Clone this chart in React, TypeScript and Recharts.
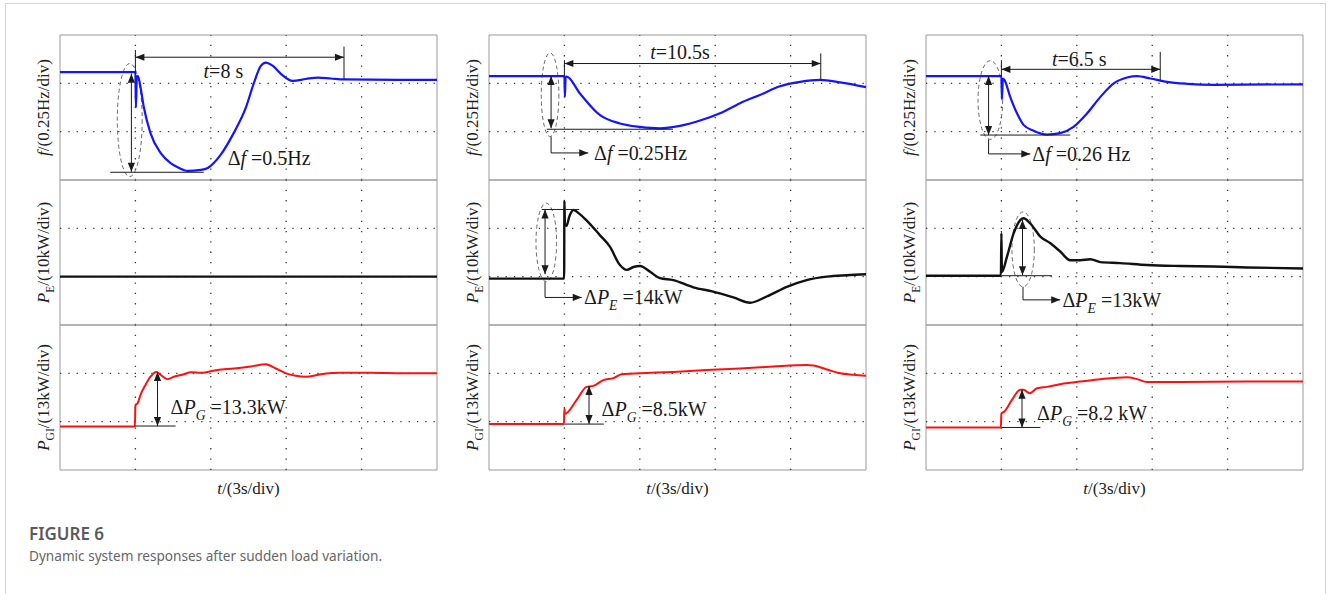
import React from "react";
import {
  LineChart,
  Line,
  XAxis,
  YAxis,
  ReferenceLine,
  ReferenceArea,
  ReferenceDot,
} from "recharts";

type Row = [number, number];
type Seg = [number, number, number, number];
type Part = [string, string?];

// time in s (3 s/div), values in scope divisions (0..3)
const timeTicks = [0, 3, 6, 9, 12, 15];
const divTicks = [0, 1, 2, 3];
const timeGrid = [3, 6, 9, 12];
const divGrid = [1, 2];

const freqA: Row[] = [[0, 2.23], [2.98, 2.23], [3.0, 2.23], [3.02, 1.5], [3.06, 2.15], [3.1, 2.15], [3.2, 1.93], [3.33, 1.52], [3.6, 0.97], [4.0, 0.56], [4.4, 0.35], [4.7, 0.26], [5.08, 0.19], [5.6, 0.21], [5.88, 0.25], [6.39, 0.52], [6.91, 0.97], [7.39, 1.49], [7.71, 2.0], [7.99, 2.36], [8.19, 2.43], [8.47, 2.36], [8.78, 2.2], [9.26, 2.05], [9.78, 2.09], [10.26, 2.12], [10.78, 2.1], [11.3, 2.08], [15, 2.07]];
const freqB: Row[] = [[0, 2.15], [2.98, 2.15], [3.0, 2.15], [3.02, 1.72], [3.05, 2.14], [3.09, 2.14], [3.62, 1.79], [4.42, 1.34], [5.21, 1.17], [6.0, 1.1], [6.8, 1.07], [7.6, 1.12], [8.4, 1.23], [9.19, 1.38], [9.99, 1.59], [10.78, 1.76], [11.58, 1.94], [12.38, 2.03], [13.17, 2.07], [13.97, 2.02], [15, 1.92]];
const freqC: Row[] = [[0, 2.15], [2.98, 2.15], [3.0, 2.15], [3.02, 1.67], [3.06, 2.1], [3.12, 2.07], [3.35, 1.72], [3.62, 1.38], [3.88, 1.14], [4.28, 1.02], [4.81, 0.94], [5.34, 0.97], [5.87, 1.1], [6.41, 1.38], [6.94, 1.72], [7.47, 2.0], [8.0, 2.12], [8.4, 2.15], [8.93, 2.1], [9.59, 2.03], [10.39, 1.99], [11.45, 1.97], [15, 1.98]];

const essA: Row[] = [[0, 1.0], [3, 1.0], [15, 1.0]];
const essB: Row[] = [[0, 0.96], [2.99, 0.96], [3.0, 2.57], [3.02, 2.1], [3.08, 2.05], [3.2, 2.25], [3.36, 2.38], [3.6, 2.3], [3.87, 2.17], [4.41, 1.86], [4.81, 1.62], [5.21, 1.24], [5.48, 1.14], [5.75, 1.2], [6.01, 1.22], [6.41, 1.1], [6.8, 0.97], [7.33, 0.93], [8.13, 0.78], [8.92, 0.69], [9.72, 0.57], [10.39, 0.46], [11.05, 0.59], [11.85, 0.79], [12.64, 0.93], [13.44, 1.0], [14.24, 1.03], [15, 1.05]];
const essC: Row[] = [[0, 1.02], [2.98, 1.02], [3.0, 1.9], [3.02, 1.1], [3.22, 1.41], [3.49, 1.9], [3.75, 2.17], [3.88, 2.21], [4.15, 2.1], [4.55, 1.83], [4.95, 1.69], [5.34, 1.52], [5.74, 1.34], [6.14, 1.34], [6.54, 1.36], [6.94, 1.3], [7.73, 1.28], [8.79, 1.24], [10.12, 1.22], [11.45, 1.21], [12.77, 1.19], [15, 1.17]];

const genA: Row[] = [[0, 0.9], [2.98, 0.9], [3.0, 1.34], [3.09, 1.38], [3.2, 1.55], [3.4, 1.76], [3.6, 1.93], [3.83, 2.03], [4.0, 1.97], [4.27, 1.88], [4.53, 1.93], [4.93, 1.98], [5.2, 2.02], [5.6, 2.01], [6.26, 2.07], [6.93, 2.1], [7.59, 2.14], [8.19, 2.19], [8.59, 2.1], [8.99, 2.0], [9.38, 1.95], [9.78, 1.93], [10.38, 1.98], [11.18, 2.01], [12.37, 2.01], [13.57, 2.0], [15, 2.0]];
const genB: Row[] = [[0, 0.95], [2.98, 0.95], [3.0, 1.28], [3.02, 1.16], [3.49, 1.45], [3.88, 1.72], [4.15, 1.74], [4.55, 1.86], [4.95, 1.9], [5.28, 1.98], [6.01, 2.0], [7.33, 2.03], [8.66, 2.07], [9.99, 2.1], [11.31, 2.14], [12.64, 2.17], [12.9, 2.16], [13.44, 2.08], [13.97, 2.0], [14.5, 1.97], [15, 1.95]];
const genC: Row[] = [[0, 0.88], [2.98, 0.88], [3.0, 1.17], [3.12, 1.21], [3.42, 1.45], [3.75, 1.66], [3.88, 1.66], [4.12, 1.59], [4.42, 1.69], [4.81, 1.72], [5.48, 1.79], [6.14, 1.83], [6.94, 1.88], [8.0, 1.92], [8.4, 1.88], [8.79, 1.82], [10.12, 1.82], [12.77, 1.83], [15, 1.83]];

// axis titles
const fLabel: Part[] = [["f", "i"], ["/(0.25Hz/div)"]];
const peLabel: Part[] = [["P", "i"], ["E", "n"], ["/(10kW/div)"]];
const pgLabel: Part[] = [["P", "i"], ["GI", "n"], ["/(13kW/div)"]];
const tLabel: Part[] = [["t", "i"], ["/(3s/div)"]];

interface Note { t: number; v: number; parts: Part[]; mid?: boolean }
interface Spec {
  rows: Row[];
  color: string;
  sw: number;
  label: Part[];
  both?: Seg[];   // double-headed arrows
  single?: Seg[]; // arrows with one head
  lines?: Seg[];
  rings?: Seg[];  // t1, t2, v1, v2
  notes?: Note[];
}

const specs: Spec[][] = [
  [
    {
      rows: freqA, color: "#1414ff", sw: 2.2, label: fLabel,
      both: [[3, 2.54, 11.3, 2.54], [2.84, 2.2, 2.84, 0.17]],
      lines: [[3, 2.69, 3, 2.2], [11.3, 2.76, 11.3, 2.08], [2.0, 0.16, 5.72, 0.16]],
      rings: [[2.28, 3.27, 0.07, 2.41]],
      notes: [
        { t: 6.5, v: 2.26, parts: [["t", "i"], ["=8 s"]], mid: true },
        { t: 6.67, v: 0.46, parts: [["Δ"], ["f", "i"], [" =0.5Hz"]] },
      ],
    },
    { rows: essA, color: "#111", sw: 2.4, label: peLabel },
    {
      rows: genA, color: "#ff1010", sw: 2, label: pgLabel,
      both: [[3.88, 2.03, 3.88, 0.91]],
      lines: [[2.97, 0.91, 4.6, 0.91]],
      notes: [{ t: 4.4, v: 1.31, parts: [["Δ"], ["P", "i"], ["G", "s"], [" =13.3kW"]] }],
    },
  ],
  [
    {
      rows: freqB, color: "#1414ff", sw: 2.2, label: fLabel,
      both: [[3, 2.41, 13.2, 2.41], [2.47, 2.15, 2.47, 1.07]],
      single: [[2.47, 0.56, 3.95, 0.56]],
      lines: [[3, 2.48, 3, 2.15], [13.2, 2.62, 13.2, 2.07], [2.3, 1.05, 7.32, 1.05], [2.47, 0.9, 2.47, 0.56]],
      rings: [[2.08, 2.78, 0.9, 2.63]],
      notes: [
        { t: 7.6, v: 2.64, parts: [["t", "i"], ["=10.5s"]], mid: true },
        { t: 4.18, v: 0.56, parts: [["Δ"], ["f", "i"], [" =0.25Hz"]] },
      ],
    },
    {
      rows: essB, color: "#111", sw: 2.4, label: peLabel,
      both: [[2.23, 2.39, 2.23, 1.05]],
      single: [[2.23, 0.57, 3.69, 0.57]],
      lines: [[2.1, 2.39, 3.59, 2.39], [2.23, 0.9, 2.23, 0.57]],
      rings: [[1.87, 2.69, 0.9, 2.52]],
      notes: [{ t: 3.78, v: 0.58, parts: [["Δ"], ["P", "i"], ["E", "s"], [" =14kW"]] }],
    },
    {
      rows: genB, color: "#ff1010", sw: 2, label: pgLabel,
      both: [[3.98, 1.74, 3.98, 0.95]],
      lines: [[3, 0.95, 4.57, 0.95]],
      notes: [{ t: 4.48, v: 1.26, parts: [["Δ"], ["P", "i"], ["G", "s"], [" =8.5kW"]] }],
    },
  ],
  [
    {
      rows: freqC, color: "#1414ff", sw: 2.2, label: fLabel,
      both: [[3, 2.29, 9.32, 2.29], [2.49, 2.15, 2.49, 0.93]],
      single: [[2.49, 0.54, 4.15, 0.54]],
      lines: [[3, 2.48, 3, 2.15], [9.32, 2.65, 9.32, 2.07], [2.16, 0.93, 5.74, 0.93], [2.49, 0.84, 2.49, 0.54]],
      rings: [[2.07, 3.05, 0.84, 2.47]],
      notes: [
        { t: 6.1, v: 2.5, parts: [["t", "i"], ["=6.5 s"]], mid: true },
        { t: 4.23, v: 0.54, parts: [["Δ"], ["f", "i"], [" =0.26 Hz"]] },
      ],
    },
    {
      rows: essC, color: "#111", sw: 2.4, label: peLabel,
      both: [[3.84, 2.17, 3.84, 1.03]],
      single: [[3.86, 0.52, 5.34, 0.52]],
      lines: [[3, 1.02, 5.01, 1.02], [3.86, 0.79, 3.86, 0.52]],
      rings: [[3.42, 4.31, 0.79, 2.34]],
      notes: [{ t: 5.43, v: 0.52, parts: [["Δ"], ["P", "i"], ["E", "s"], [" =13kW"]] }],
    },
    {
      rows: genC, color: "#ff1010", sw: 2, label: pgLabel,
      both: [[3.82, 1.66, 3.82, 0.88]],
      lines: [[3, 0.88, 4.55, 0.88]],
      notes: [{ t: 4.42, v: 1.17, parts: [["Δ"], ["P", "i"], ["G", "s"], [" =8.2 kW"]] }],
    },
  ],
];

const SERIF = "'Liberation Serif', 'Times New Roman', serif";
const INK = "#1a1a1a";
const colLeft = [60, 489, 926];
const rowTop = [35, 180, 325];
const PW = 377;
const PH = 145;
const YW = 45;

function rich(parts: Part[], size: number) {
  let sub = false;
  return parts.map(([s, f], i) => {
    const isSub = f === "s" || f === "n";
    const shift = size * 0.3;
    const dy = isSub && !sub ? shift : !isSub && sub ? -shift : 0;
    sub = isSub;
    return (
      <tspan
        key={i}
        dy={dy || undefined}
        fontStyle={f === "i" || f === "s" ? "italic" : "normal"}
        fontSize={isSub ? size * 0.68 : size}
      >
        {s}
      </tspan>
    );
  });
}

function arrowShape(heads: number) {
  return (p: any) => {
    const { x1, y1, x2, y2 } = p;
    const a = Math.atan2(y2 - y1, x2 - x1);
    const tri = (x: number, y: number, ang: number) => {
      const L = 9, W = 3.6;
      const bx = x - L * Math.cos(ang);
      const by = y - L * Math.sin(ang);
      return `${x},${y} ${bx - W * Math.sin(ang)},${by + W * Math.cos(ang)} ${bx + W * Math.sin(ang)},${by - W * Math.cos(ang)}`;
    };
    return (
      <g>
        <line x1={x1} y1={y1} x2={x2} y2={y2} stroke={INK} strokeWidth={1} />
        {heads >= 1 && <polygon points={tri(x2, y2, a)} fill={INK} />}
        {heads === 2 && <polygon points={tri(x1, y1, a + Math.PI)} fill={INK} />}
      </g>
    );
  };
}

const ringShape = (p: any) => (
  <ellipse
    cx={p.x + p.width / 2}
    cy={p.y + p.height / 2}
    rx={p.width / 2}
    ry={p.height / 2}
    fill="none"
    stroke="#666"
    strokeWidth={1}
    strokeDasharray="4 3"
  />
);

function noteShape(n: Note) {
  return (p: any) => (
    <text
      x={p.cx}
      y={p.cy}
      dy="0.35em"
      textAnchor={n.mid ? "middle" : "start"}
      fontFamily={SERIF}
      fontSize={20}
      fill={INK}
      style={{ whiteSpace: "pre" }}
    >
      {rich(n.parts, 20)}
    </text>
  );
}

function yTitle(parts: Part[]) {
  return (props: any) => {
    const vb = props.viewBox || {};
    const cx = vb.x + vb.width - 17;
    const cy = vb.y + vb.height / 2;
    return (
      <text
        x={cx}
        y={cy}
        dy="0.35em"
        transform={`rotate(-90 ${cx} ${cy})`}
        textAnchor="middle"
        fontFamily={SERIF}
        fontSize={17}
        fill="#222"
      >
        {rich(parts, 17)}
      </text>
    );
  };
}

function xTitle(props: any) {
  const vb = props.viewBox || {};
  const cx = vb.x + vb.width / 2;
  const cy = vb.y + 18;
  return (
    <text x={cx} y={cy} dy="0.35em" textAnchor="middle" fontFamily={SERIF} fontSize={17} fill="#222">
      {rich(tLabel, 17)}
    </text>
  );
}

function Panel({ spec, left, top, bottom }: { spec: Spec; left: number; top: number; bottom: boolean }) {
  const data = spec.rows.map(([t, v]) => ({ t, v }));
  const h = PH + 4 + (bottom ? 30 : 0);
  return (
    <div style={{ position: "absolute", left: left - YW, top: top - 2 }}>
      <LineChart width={YW + PW + 2} height={h} data={data} margin={{ top: 2, right: 2, bottom: 2, left: 0 }}>
        <XAxis
          dataKey="t"
          type="number"
          domain={[0, 15]}
          ticks={timeTicks}
          hide={!bottom}
          height={30}
          tick={false}
          tickLine={false}
          axisLine={false}
          label={bottom ? { content: xTitle } : undefined}
        />
        <YAxis
          type="number"
          domain={[0, 3]}
          ticks={divTicks}
          width={YW}
          tick={false}
          tickLine={false}
          axisLine={false}
          allowDataOverflow
          label={{ content: yTitle(spec.label) }}
        />
        {timeGrid.map((t) => (
          <ReferenceLine key={`gx${t}`} x={t} stroke="#3a3a3a" strokeWidth={1.3} strokeDasharray="1.3 9" />
        ))}
        {divGrid.map((v) => (
          <ReferenceLine key={`gy${v}`} y={v} stroke="#3a3a3a" strokeWidth={1.3} strokeDasharray="1.3 7" />
        ))}
        <ReferenceArea x1={0} x2={15} y1={0} y2={3} fill="none" stroke="#9a9a9a" strokeWidth={1} ifOverflow="visible" />
        <Line
          dataKey="v"
          type="monotone"
          stroke={spec.color}
          strokeWidth={spec.sw}
          dot={false}
          isAnimationActive={false}
        />
        {(spec.rings || []).map((r, i) => (
          <ReferenceArea key={`r${i}`} x1={r[0]} x2={r[1]} y1={r[2]} y2={r[3]} shape={ringShape} ifOverflow="visible" />
        ))}
        {(spec.lines || []).map((s, i) => (
          <ReferenceLine
            key={`l${i}`}
            segment={[{ x: s[0], y: s[1] }, { x: s[2], y: s[3] }]}
            stroke={INK}
            strokeWidth={1}
            ifOverflow="visible"
          />
        ))}
        {(spec.both || []).map((s, i) => (
          <ReferenceLine
            key={`b${i}`}
            segment={[{ x: s[0], y: s[1] }, { x: s[2], y: s[3] }]}
            shape={arrowShape(2)}
            ifOverflow="visible"
          />
        ))}
        {(spec.single || []).map((s, i) => (
          <ReferenceLine
            key={`s${i}`}
            segment={[{ x: s[0], y: s[1] }, { x: s[2], y: s[3] }]}
            shape={arrowShape(1)}
            ifOverflow="visible"
          />
        ))}
        {(spec.notes || []).map((n, i) => (
          <ReferenceDot key={`n${i}`} x={n.t} y={n.v} r={1} shape={noteShape(n)} ifOverflow="visible" />
        ))}
      </LineChart>
    </div>
  );
}

export default function App() {
  return (
    <div style={{ position: "absolute", left: 0, top: 0, width: 1330, height: 594, overflow: "hidden", background: "#fff" }}>
      <div
        style={{
          position: "absolute",
          left: 5,
          top: 3,
          width: 1321,
          height: 620,
          border: "1px solid #d4d4d4",
          boxSizing: "border-box",
        }}
      />
      {specs.map((col, ci) =>
        col.map((spec, ri) => (
          <Panel key={`${ci}-${ri}`} spec={spec} left={colLeft[ci]} top={rowTop[ri]} bottom={ri === 2} />
        ))
      )}
      <div
        style={{
          position: "absolute",
          left: 29,
          top: 523,
          fontFamily: "'Noto Sans', sans-serif",
          fontSize: 17,
          fontWeight: 600,
          color: "#5a5a5a",
          lineHeight: "22px",
        }}
      >
        FIGURE 6
      </div>
      <div
        style={{
          position: "absolute",
          left: 29,
          top: 546,
          fontFamily: "'Noto Sans', sans-serif",
          fontSize: 13.6,
          color: "#666",
          lineHeight: "20px",
        }}
      >
        Dynamic system responses after sudden load variation.
      </div>
    </div>
  );
}
